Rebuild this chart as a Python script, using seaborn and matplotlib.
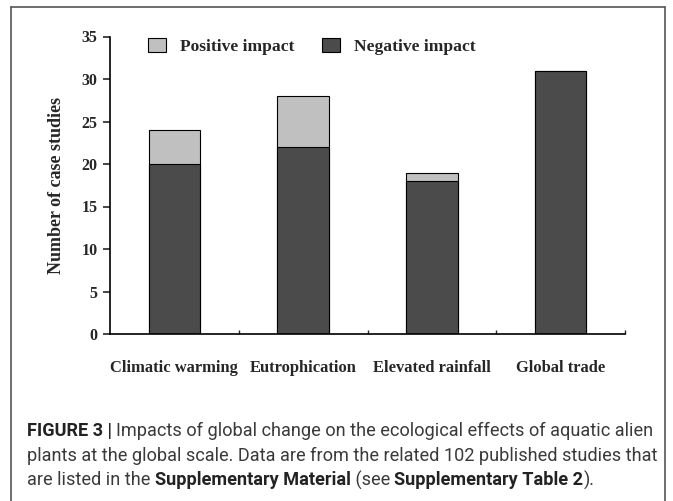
import matplotlib
matplotlib.use("Agg")
import matplotlib.pyplot as plt
import seaborn as sns
import pandas as pd
from matplotlib.lines import Line2D

categories = ["Climatic warming", "Eutrophication", "Elevated rainfall", "Global trade"]
negative = [20, 22, 18, 31]
positive = [4, 6, 1, 0]
yticks = [0, 5, 10, 15, 20, 25, 30, 35]

sns.set_style("ticks")
plt.rcParams['font.family'] = ['Liberation Serif', 'DejaVu Serif']

totals = [n + p for n, p in zip(negative, positive)]
df = pd.DataFrame({"category": categories, "negative": negative, "total": totals})

W, H = 673, 501
fig = plt.figure(figsize=(W / 100, H / 100), dpi=100)
ax = fig.add_axes([110 / W, 1 - 334 / H, (625 - 110) / W, (334 - 36.5) / H])

c_pos = "#c0c0c0"
c_neg = "#4b4b4b"
sns.barplot(data=df, x="category", y="total", color=c_pos, width=0.4,
            edgecolor="black", linewidth=0.8, saturation=1, ax=ax, label="Positive impact")
sns.barplot(data=df, x="category", y="negative", color=c_neg, width=0.4,
            edgecolor="black", linewidth=0.8, saturation=1, ax=ax, label="Negative impact")

ax.set_xlim(-0.5, 3.5)
ax.set_ylim(0, 35)
ax.set_yticks(yticks)
ax.set_xlabel("")
ax.set_ylabel("Number of case studies", fontsize=13, fontweight="bold", labelpad=12)
for side in ["top", "right"]:
    ax.spines[side].set_visible(False)
for side in ["left", "bottom"]:
    ax.spines[side].set_linewidth(1.2)
    ax.spines[side].set_color("black")
ax.tick_params(axis="y", direction="out", length=5, width=1.2, labelsize=11.5, pad=4)
ax.tick_params(axis="x", which="major", length=0, labelsize=11.9, pad=19)
ax.set_xticks([0.5, 1.5, 2.5, 3.5], minor=True)
ax.tick_params(axis="x", which="minor", direction="in", length=3, width=1.0)
for lab in ax.get_xticklabels() + ax.get_yticklabels():
    lab.set_fontweight("bold")

leg = ax.legend(loc="upper left", bbox_to_anchor=((148 - 110) / 515, (334 - 38) / 297.5),
                ncol=2, frameon=False, borderpad=0, borderaxespad=0,
                prop={"weight": "bold", "size": 12.6}, handlelength=1.03, handleheight=0.86,
                columnspacing=1.55, handletextpad=0.8)

# frame border
bc = "#555555"
fig.add_artist(Line2D([11 / W, 11 / W], [0, 1 - 7 / H], color=bc, lw=1.2, transform=fig.transFigure))
fig.add_artist(Line2D([11 / W, 665 / W], [1 - 7 / H, 1 - 7 / H], color=bc, lw=1.2, transform=fig.transFigure))
fig.add_artist(Line2D([665 / W, 665 / W], [0, 1 - 7 / H], color=bc, lw=1.2, transform=fig.transFigure))

# caption
cap_lines = [
    [("FIGURE 3 | ", True), ("Impacts of global change on the ecological effects of aquatic alien", False)],
    [("plants at the global scale. Data are from the related 102 published studies that", False)],
    [("are listed in the ", False), ("Supplementary Material", True), (" (see ", False),
     ("Supplementary Table 2", True), (").", False)],
]
cap_y = [431, 456, 480]
renderer = fig.canvas.get_renderer()
cap_family = ["Roboto", "Liberation Sans", "DejaVu Sans"]


def draw_line(segs, yy, size, draw=True):
    x = 27
    made = []
    for txt, bold in segs:
        t = fig.text(x / W, 1 - yy / H, txt, ha="left", va="center", fontsize=size,
                     family=cap_family, fontweight="bold" if bold else "normal",
                     color="#222222" if bold else "#3a3a3a")
        bb = t.get_window_extent(renderer)
        x += bb.width
        made.append(t)
    if not draw:
        for t in made:
            t.remove()
    return x


base = 12.0
end = draw_line(cap_lines[0], cap_y[0], base, draw=False)
size = base * (651 - 27) / (end - 27)
for segs, yy in zip(cap_lines, cap_y):
    draw_line(segs, yy, size)

fig.savefig("out.png", dpi=100)
